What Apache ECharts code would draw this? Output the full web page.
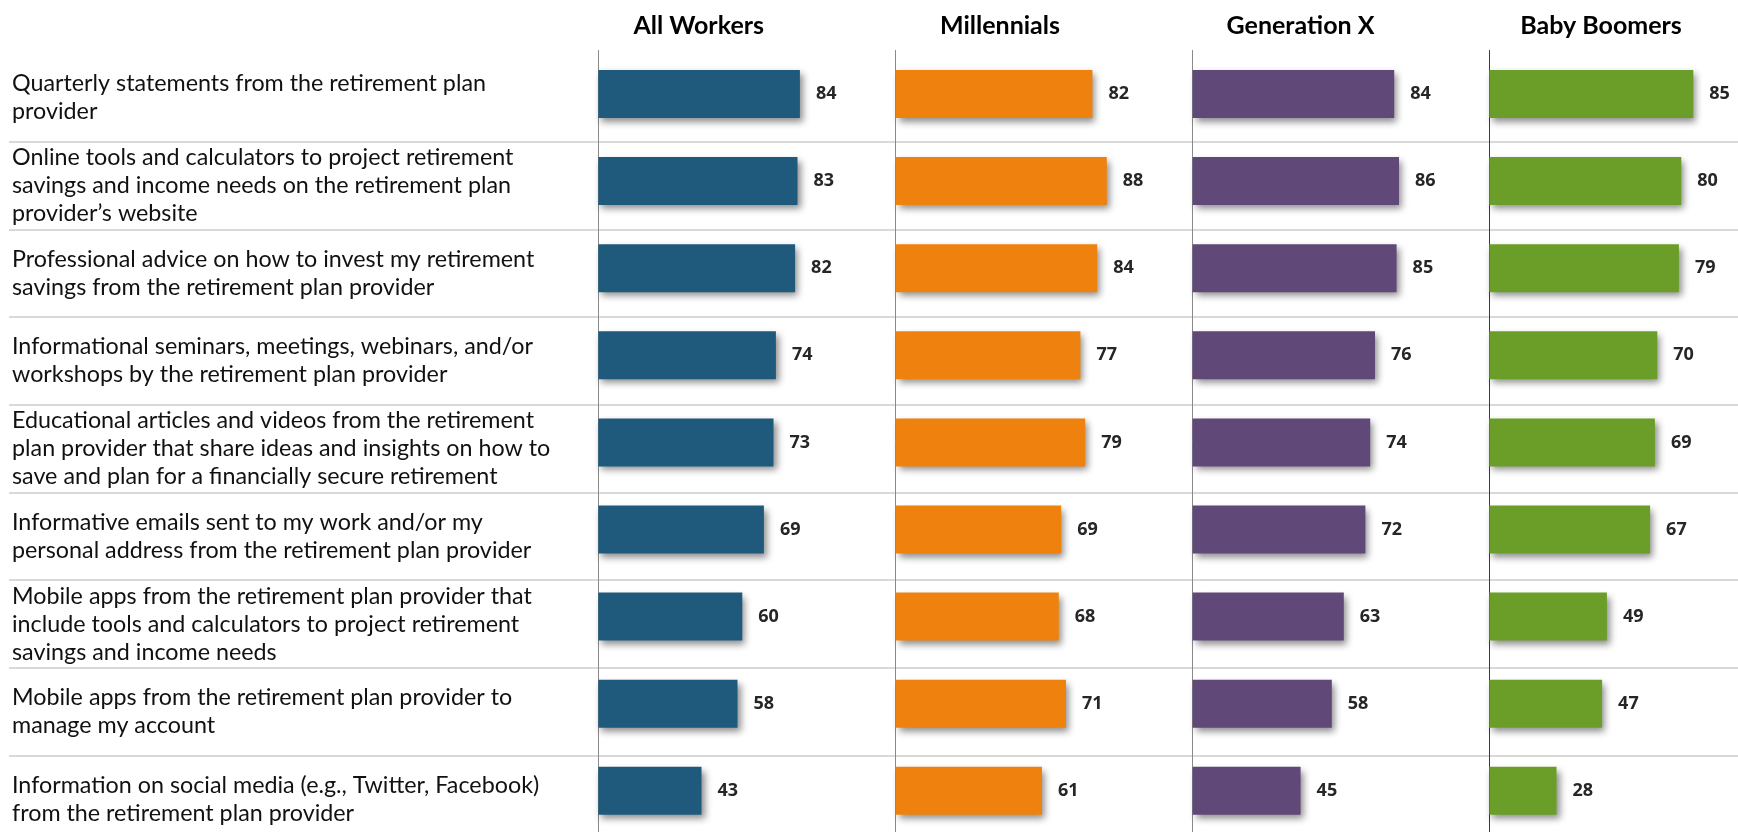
<!DOCTYPE html>
<html><head><meta charset="utf-8">
<script src="https://cdn.jsdelivr.net/npm/echarts@6/dist/echarts.min.js"></script>
<style>html,body{margin:0;padding:0;background:#fff}#c{width:1738px;height:832px}</style>
</head><body><div id="c"></div>
<script>
// ---- data ----
const categories = [
  "Quarterly statements from the retirement plan\nprovider",
  "Online tools and calculators to project retirement\nsavings and income needs on the retirement plan\nprovider\u2019s website",
  "Professional advice on how to invest my retirement\nsavings from the retirement plan provider",
  "Informational seminars, meetings, webinars, and/or\nworkshops by the retirement plan provider",
  "Educational articles and videos from the retirement\nplan provider that share ideas and insights on how to\nsave and plan for a financially secure retirement",
  "Informative emails sent to my work and/or my\npersonal address from the retirement plan provider",
  "Mobile apps from the retirement plan provider that\ninclude tools and calculators to project retirement\nsavings and income needs",
  "Mobile apps from the retirement plan provider to\nmanage my account",
  "Information on social media (e.g., Twitter, Facebook)\nfrom the retirement plan provider"
];
const groups = ["All Workers", "Millennials", "Generation X", "Baby Boomers"];
const allWorkers  = [84, 83, 82, 74, 73, 69, 60, 58, 43];
const millennials = [82, 88, 84, 77, 79, 69, 68, 71, 61];
const generationX = [84, 86, 85, 76, 74, 72, 63, 58, 45];
const babyBoomers = [85, 80, 79, 70, 69, 67, 49, 47, 28];

// ---- layout / style ----
const seriesValues = [allWorkers, millennials, generationX, babyBoomers];
const colors = ["#1F5A7D", "#EF820E", "#604878", "#6B9E29"];
const axisColors = ["#8a8a8a", "#8a8a8a", "#8a8a8a", "#3a3a3a"];
const panelLeft = [598.3, 895.6, 1192.6, 1489.3];
const titleCenter = [698.7, 1000, 1300.5, 1601];

const grids = [{ left: 9, right: 0, top: 54, height: 789.3, containLabel: false, outerBoundsMode: "none" }];
const xAxes = [{ gridIndex: 0, type: "value", show: false, min: 0, max: 100 }];
const yAxes = [{
  gridIndex: 0, type: "category", inverse: true, data: categories,
  axisLine: { show: false }, axisTick: { show: false },
  axisLabel: {
    inside: true, margin: 3, align: "left",
    fontFamily: "Lato", fontSize: 23.3, lineHeight: 28, color: "#111",
    backgroundColor: "rgba(255,255,255,0)",
    padding: [4, 0, 0, 0]
  },
  splitLine: {
    show: true, showMinLine: false, showMaxLine: false, interval: 0,
    lineStyle: { color: "#d9d9d9", width: 2 }
  }
}];
const series = [];
const graphics = [];

seriesValues.forEach((vals, i) => {
  grids.push({ left: panelLeft[i], top: 50.45, width: 240, height: 783.9, containLabel: false, outerBoundsMode: "none" });
  xAxes.push({ gridIndex: i + 1, type: "value", min: 0, max: 100, show: false });
  yAxes.push({
    gridIndex: i + 1, type: "category", inverse: true, data: categories,
    axisLine: { show: true, lineStyle: { color: axisColors[i], width: 1 } },
    axisTick: { show: false }, axisLabel: { show: false }, splitLine: { show: false }
  });
  series.push({
    type: "bar", name: groups[i], xAxisIndex: i + 1, yAxisIndex: i + 1,
    data: vals, barWidth: 48,
    itemStyle: {
      color: colors[i],
      shadowColor: "rgba(0,0,0,0.45)", shadowBlur: 7, shadowOffsetX: 3, shadowOffsetY: 4
    },
    label: {
      show: true, position: "right", distance: 16,
      fontFamily: "Open Sans", fontWeight: "bold", fontSize: 18, color: "#262626"
    },
    z: 3
  });
  graphics.push({
    type: "text", x: titleCenter[i], y: 26,
    style: {
      text: groups[i], align: "center", verticalAlign: "middle",
      font: "bold 25px Lato", fill: "#000"
    }
  });
});

const chart = echarts.init(document.getElementById("c"), null, { renderer: "canvas" });
chart.setOption({
  animation: false,
  backgroundColor: "#fff",
  grid: grids, xAxis: xAxes, yAxis: yAxes, series: series, graphic: graphics
});
</script></body></html>
